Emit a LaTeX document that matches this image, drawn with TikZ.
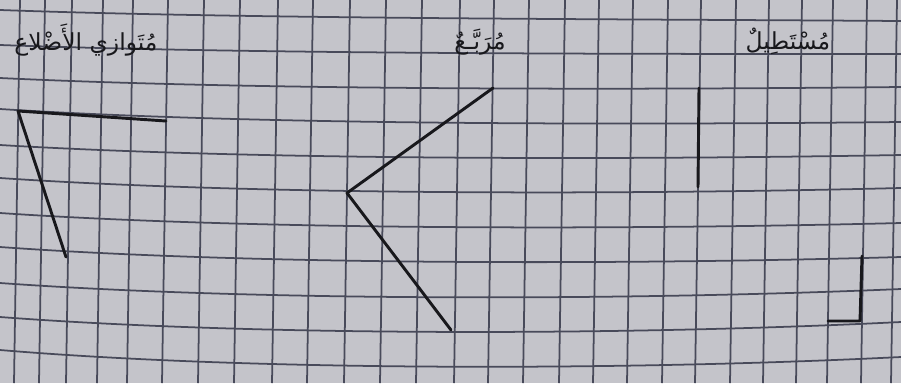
\documentclass[tikz,border=0pt]{standalone}
\usepackage{fontspec}
\newfontfamily\arabicfont[Script=Arabic]{DejaVu Sans}
\TeXXeTstate=1
\usetikzlibrary{positioning}

\definecolor{paper}{RGB}{196,196,202}
\definecolor{gridink}{RGB}{72,74,90}
\definecolor{pencil}{RGB}{24,24,28}

\begin{document}
\begin{tikzpicture}[
      x=0.03cm, y=-0.03cm,
      gridline/.style={draw=gridink, line width=1.5pt},
      seg/.style={draw=pencil, line width=2.5pt, line cap=round, line join=round},
      shapelabel/.style={text=pencil, inner sep=0pt, font=\arabicfont\fontsize{20}{24}\selectfont},
  ]

  % Paper
  \fill[paper] (0,0) rectangle (901,383);
  \useasboundingbox (0,0) rectangle (901,383);

  % --- Grid: vertical rules, a little slanted ---
  \foreach \gx in {20,45,72,103,133,168,204,240,278,313,350,386,422,460,494,529,565,599,633,668,701,736,769,802,833,867,897}
    \draw[gridline] (\gx,0) -- (\gx-6,383);

  % --- Grid: horizontal rules, sagging in the middle ---
  \foreach \hy/\hl/\hr in {17/10/21, 52/45/54, 88/78/87, 123/109/122, 158/145/155,
                           193/178/188, 228/213/223, 263/247/257, 299/283/289,
                           334/317/322, 369/350/357}
    \draw[gridline] (0,\hl) .. controls (250,\hy+2) and (620,\hy+2) .. (901,\hr);

  % --- Labels ---
  \node[shapelabel] (parlabel) at (86,40) {\beginR مُتَوازي الأَضْلاع\endR};
  \node[shapelabel] (sqlabel) at (480,42) {\beginR مُرَبَّـعٌ\endR};
  \node[shapelabel] (rectlabel) at (788,41) {\beginR مُسْتَطِيلٌ\endR};

  % --- Parallelogram: two sides ---
  \coordinate (parA) at (18,111);
  \coordinate (parB) at (166,121);
  \coordinate (parC) at (66,257);
  \draw[seg] (parB) -- (parA) -- (parC);

  % --- Square: two sides ---
  \coordinate (sqA) at (493,88);
  \coordinate (sqB) at (347,193);
  \coordinate (sqC) at (451,330);
  \draw[seg] (sqA) -- (sqB) -- (sqC);

  % --- Rectangle: one side and one corner ---
  \coordinate (rectA) at (699,88);
  \coordinate (rectB) at (698,187);
  \draw[seg] (rectA) -- (rectB);
  \coordinate (rectC) at (862,256);
  \coordinate (rectD) at (860,321);
  \coordinate (rectE) at (828,321);
  \draw[seg] (rectC) -- (rectD) -- (rectE);

\end{tikzpicture}
\end{document}
